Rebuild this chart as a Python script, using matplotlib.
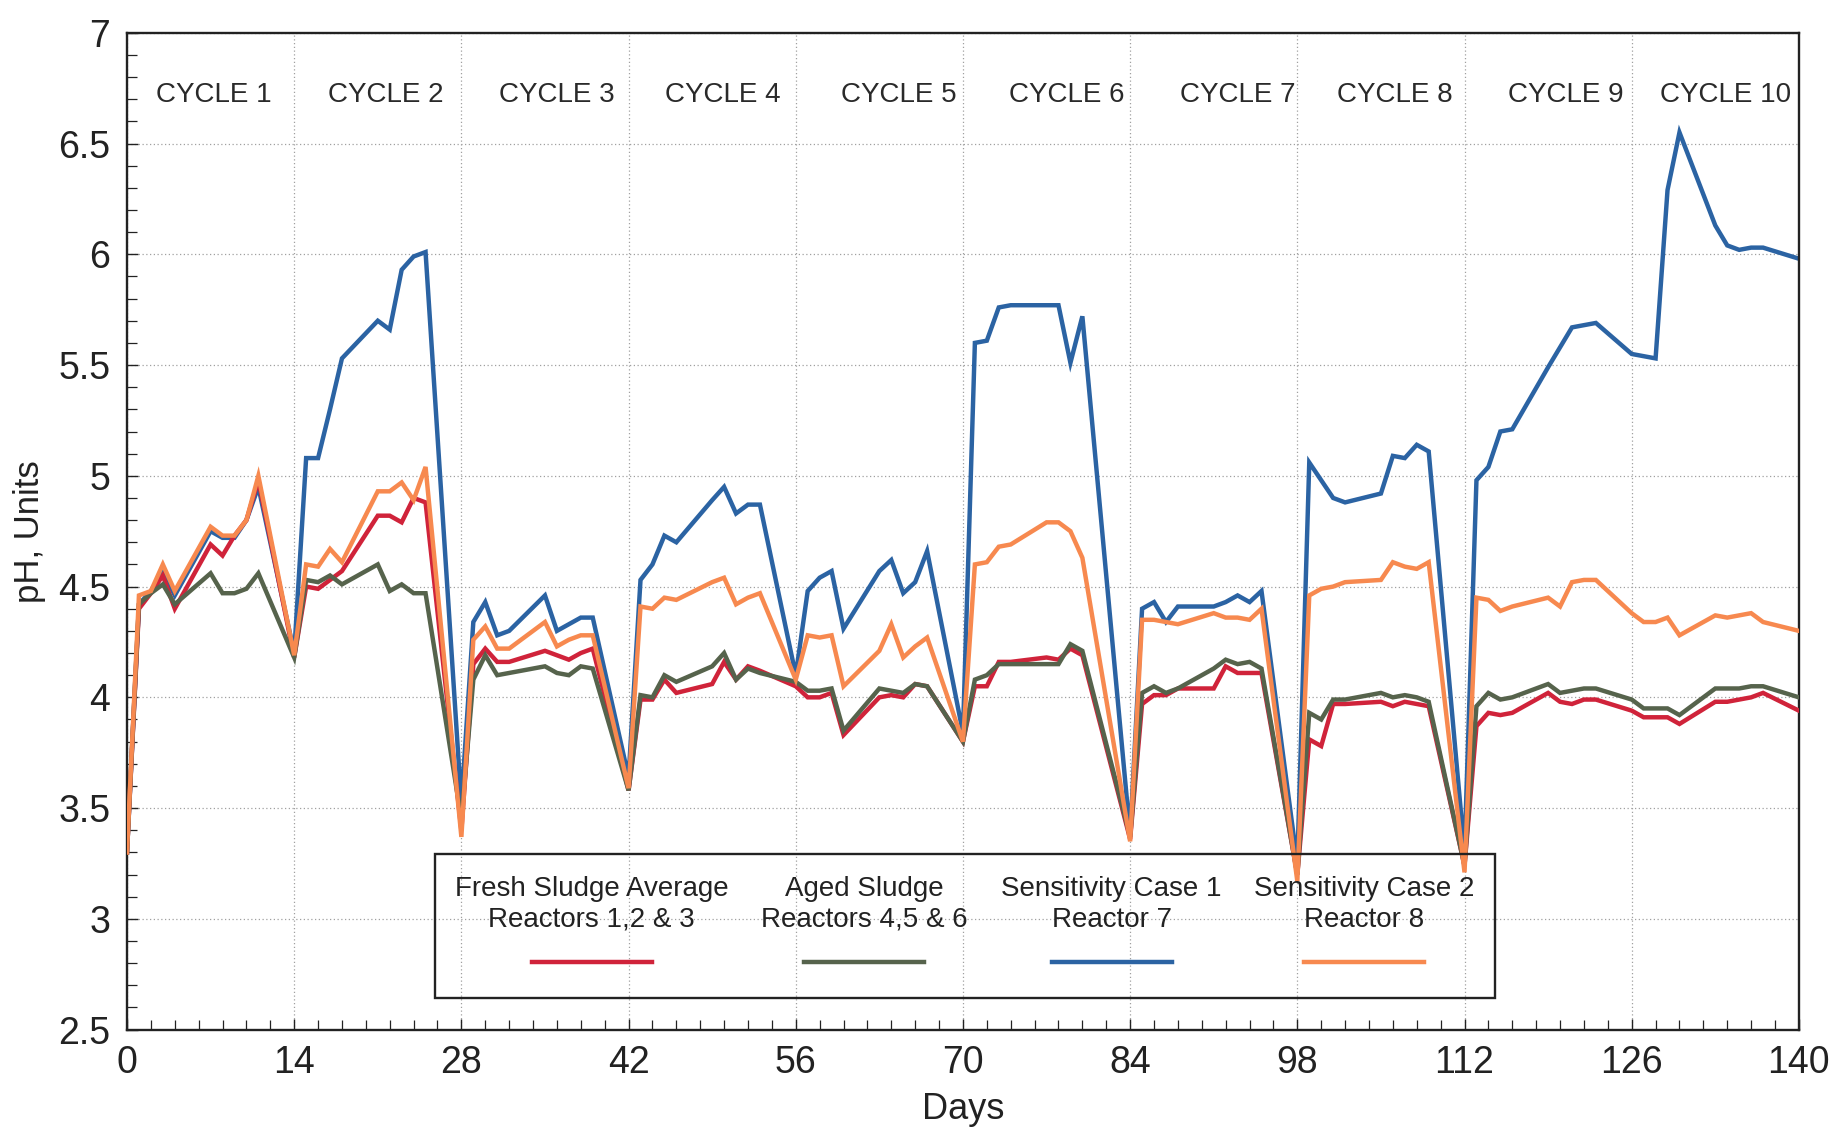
import numpy as np
import matplotlib
matplotlib.use("Agg")
import matplotlib.pyplot as plt
from matplotlib.ticker import MultipleLocator, FuncFormatter
from matplotlib.patches import Rectangle

plt.rcParams['font.family'] = ['Liberation Sans', 'DejaVu Sans']

# sampling days (weekdays of each 14 day cycle)
days = [0, 1, 2, 3, 4, 7, 8, 9, 10, 11,
        14, 15, 16, 17, 18, 21, 22, 23, 24, 25,
        28, 29, 30, 31, 32, 35, 36, 37, 38, 39,
        42, 43, 44, 45, 46, 49, 50, 51, 52, 53,
        56, 57, 58, 59, 60, 63, 64, 65, 66, 67,
        70, 71, 72, 73, 74, 77, 78, 79, 80,
        84, 85, 86, 87, 88, 91, 92, 93, 94, 95,
        98, 99, 100, 101, 102, 105, 106, 107, 108, 109,
        112, 113, 114, 115, 116, 119, 120, 121, 122, 123,
        126, 127, 128, 129, 130, 133, 134, 135, 136, 137, 140]

fresh_ph = [3.30, 4.40, 4.47, 4.55, 4.40, 4.69, 4.64, 4.73, 4.80, 4.98,
            4.18, 4.50, 4.49, 4.53, 4.57, 4.82, 4.82, 4.79, 4.90, 4.88,
            3.40, 4.15, 4.22, 4.16, 4.16, 4.21, 4.19, 4.17, 4.20, 4.22,
            3.58, 3.99, 3.99, 4.08, 4.02, 4.06, 4.16, 4.08, 4.14, 4.12,
            4.05, 4.00, 4.00, 4.02, 3.83, 4.00, 4.01, 4.00, 4.06, 4.05,
            3.80, 4.05, 4.05, 4.16, 4.16, 4.18, 4.17, 4.22, 4.19,
            3.36, 3.97, 4.01, 4.01, 4.04, 4.04, 4.14, 4.11, 4.11, 4.11,
            3.20, 3.81, 3.78, 3.97, 3.97, 3.98, 3.96, 3.98, 3.97, 3.96,
            3.24, 3.87, 3.93, 3.92, 3.93, 4.02, 3.98, 3.97, 3.99, 3.99,
            3.94, 3.91, 3.91, 3.91, 3.88, 3.98, 3.98, 3.99, 4.00, 4.02, 3.94]

aged_ph = [3.30, 4.42, 4.47, 4.51, 4.42, 4.56, 4.47, 4.47, 4.49, 4.56,
           4.18, 4.53, 4.52, 4.55, 4.51, 4.60, 4.48, 4.51, 4.47, 4.47,
           3.45, 4.08, 4.19, 4.10, 4.11, 4.14, 4.11, 4.10, 4.14, 4.13,
           3.58, 4.01, 4.00, 4.10, 4.07, 4.14, 4.20, 4.08, 4.13, 4.11,
           4.07, 4.03, 4.03, 4.04, 3.85, 4.04, 4.03, 4.02, 4.06, 4.05,
           3.80, 4.08, 4.10, 4.15, 4.15, 4.15, 4.15, 4.24, 4.21,
           3.37, 4.02, 4.05, 4.02, 4.04, 4.13, 4.17, 4.15, 4.16, 4.13,
           3.20, 3.93, 3.90, 3.99, 3.99, 4.02, 4.00, 4.01, 4.00, 3.98,
           3.24, 3.96, 4.02, 3.99, 4.00, 4.06, 4.02, 4.03, 4.04, 4.04,
           3.99, 3.95, 3.95, 3.95, 3.92, 4.04, 4.04, 4.04, 4.05, 4.05, 4.00]

sens1_ph = [3.30, 4.42, 4.48, 4.57, 4.46, 4.75, 4.72, 4.72, 4.80, 4.95,
            4.20, 5.08, 5.08, 5.30, 5.53, 5.70, 5.66, 5.93, 5.99, 6.01,
            3.52, 4.34, 4.43, 4.28, 4.30, 4.46, 4.30, 4.33, 4.36, 4.36,
            3.64, 4.53, 4.60, 4.73, 4.70, 4.89, 4.95, 4.83, 4.87, 4.87,
            4.10, 4.48, 4.54, 4.57, 4.31, 4.57, 4.62, 4.47, 4.52, 4.66,
            3.84, 5.60, 5.61, 5.76, 5.77, 5.77, 5.77, 5.51, 5.72,
            3.38, 4.40, 4.43, 4.34, 4.41, 4.41, 4.43, 4.46, 4.43, 4.48,
            3.25, 5.06, 4.98, 4.90, 4.88, 4.92, 5.09, 5.08, 5.14, 5.11,
            3.30, 4.98, 5.04, 5.20, 5.21, 5.49, 5.58, 5.67, 5.68, 5.69,
            5.55, 5.54, 5.53, 6.29, 6.55, 6.13, 6.04, 6.02, 6.03, 6.03, 5.98]

sens2_ph = [3.30, 4.46, 4.48, 4.60, 4.48, 4.77, 4.73, 4.73, 4.80, 5.00,
            4.19, 4.60, 4.59, 4.67, 4.61, 4.93, 4.93, 4.97, 4.89, 5.04,
            3.37, 4.26, 4.32, 4.22, 4.22, 4.34, 4.23, 4.26, 4.28, 4.28,
            3.59, 4.41, 4.40, 4.45, 4.44, 4.52, 4.54, 4.42, 4.45, 4.47,
            4.08, 4.28, 4.27, 4.28, 4.05, 4.21, 4.33, 4.18, 4.23, 4.27,
            3.80, 4.60, 4.61, 4.68, 4.69, 4.79, 4.79, 4.75, 4.63,
            3.35, 4.35, 4.35, 4.34, 4.33, 4.38, 4.36, 4.36, 4.35, 4.40,
            3.17, 4.46, 4.49, 4.50, 4.52, 4.53, 4.61, 4.59, 4.58, 4.61,
            3.21, 4.45, 4.44, 4.39, 4.41, 4.45, 4.41, 4.52, 4.53, 4.53,
            4.38, 4.34, 4.34, 4.36, 4.28, 4.37, 4.36, 4.37, 4.38, 4.34, 4.30]

series_labels = ["Fresh Sludge Average\nReactors 1,2 & 3",
                 "Aged Sludge\nReactors 4,5 & 6",
                 "Sensitivity Case 1\nReactor 7",
                 "Sensitivity Case 2\nReactor 8"]
series_colors = ["#d0233a", "#56634c", "#2b63a3", "#f7894f"]

cycle_labels = ["CYCLE %d" % i for i in range(1, 11)]
cycle_x = [7.3, 21.7, 36.0, 49.9, 64.6, 78.7, 93.0, 106.2, 120.5, 133.9]

fig = plt.figure(figsize=(18.3, 11.29), dpi=100)
ax = fig.add_axes([0.0694, 0.088, 0.9136, 0.883])

all_ph = [fresh_ph, aged_ph, sens1_ph, sens2_ph]
zorders = [3, 4, 2, 5]
for ph, col, z in zip(all_ph, series_colors, zorders):
    ax.plot(days, ph, color=col, lw=3.2, zorder=z, solid_joinstyle='miter')

ax.set_xlim(0, 140)
ax.set_ylim(2.5, 7)
ax.xaxis.set_major_locator(MultipleLocator(14))
ax.xaxis.set_minor_locator(MultipleLocator(2))
ax.yaxis.set_major_locator(MultipleLocator(0.5))
ax.yaxis.set_minor_locator(MultipleLocator(0.1))
ax.yaxis.set_major_formatter(FuncFormatter(lambda v, p: "%g" % v))
ax.tick_params(which='both', direction='in', top=False, right=False, color='#222222')
ax.tick_params(which='major', length=8, width=1.0, labelsize=27, labelcolor='#222222')
ax.tick_params(axis='x', which='major', pad=11)
ax.tick_params(axis='y', which='major', pad=12)
ax.tick_params(which='minor', length=7, width=0.9)
ax.grid(True, which='major', linestyle=(0, (1, 2)), color='#a0a0a0', lw=0.9)
for s in ax.spines.values():
    s.set_linewidth(1.7)
    s.set_color('#222222')

ax.set_xlabel("Days", fontsize=26, color='#222222', labelpad=8)
ax.set_ylabel("pH, Units", fontsize=25, color='#222222', labelpad=9)

for lab, x in zip(cycle_labels, cycle_x):
    ax.text(x, 6.72, lab, ha='center', va='center', fontsize=20, color='#2a2a2a')

# legend box with labels above line samples
ax.add_patch(Rectangle((0.184, 0.032), 0.634, 0.144, transform=ax.transAxes,
                       fill=False, edgecolor='#222222', lw=1.7, zorder=6))
leg_x = [0.278, 0.441, 0.589, 0.740]
for lab, col, x in zip(series_labels, series_colors, leg_x):
    ax.text(x, 0.126, lab, transform=ax.transAxes, ha='center', va='center',
            fontsize=20, color='#222222', linespacing=1.25, zorder=7)
    ax.plot([x - 0.036, x + 0.036], [0.068, 0.068], transform=ax.transAxes,
            color=col, lw=3.2, zorder=7)

fig.savefig("out.png", dpi=100, facecolor='white')
